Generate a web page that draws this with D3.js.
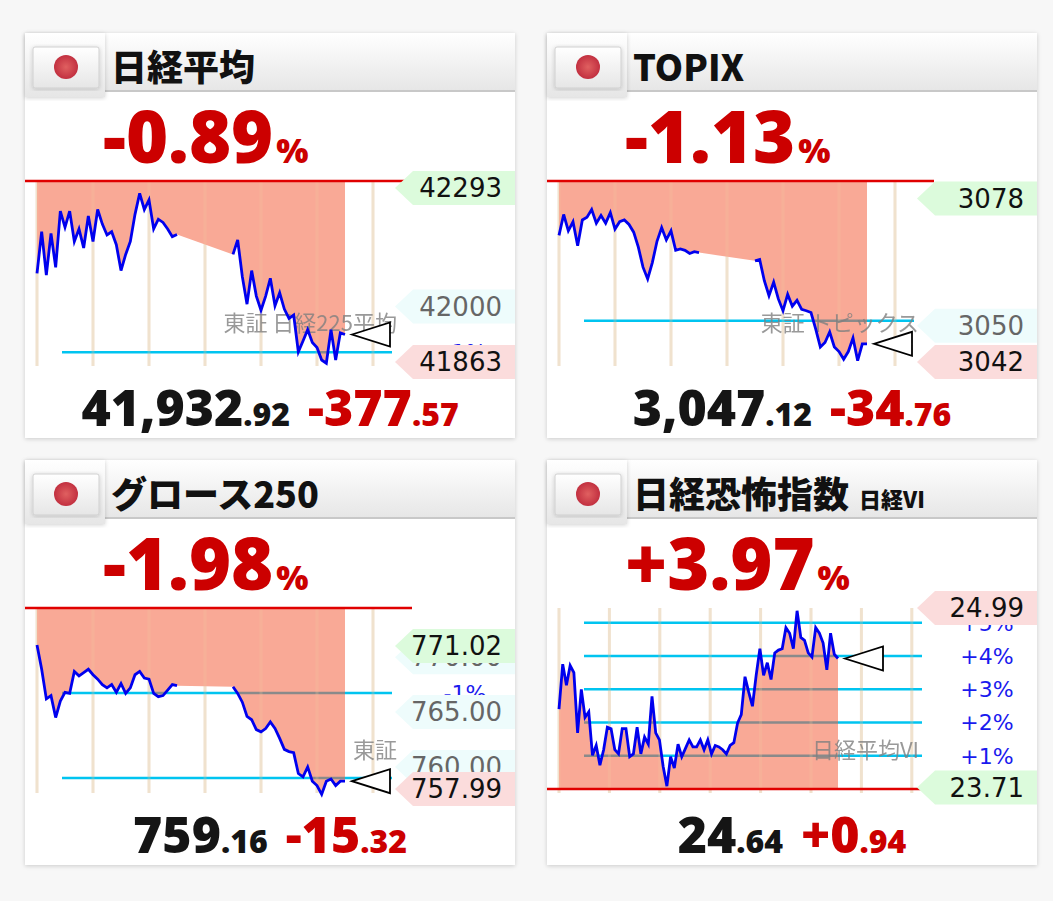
<!DOCTYPE html>
<html><head><meta charset="utf-8">
<script src="https://cdn.jsdelivr.net/npm/d3@7"></script>
<style>body{margin:0;background:#f7f7f7}</style>
</head><body><div id="chart"></div>
<script>
// 5-minute readings, morning 9:00-11:30, afternoon 12:30-14:30
var nkMorning = [42082,42185,42078,42181,42097,42236,42196,42236,42161,42192,42145,42224,42161,42240,42204,42177,42185,42153,42089,42129,42161,42228,42280,42240,42264,42192,42216,42208,42192,42173,42178];
var nkAfternoon = [42129,42165,42074,42006,42089,42026,41991,42026,42070,42002,42034,41994,41971,41979,41888,41915,41943,41911,41899,41868,41860,41943,41868,41935,41931];
var tpMorning = [3069.9,3074.5,3070.9,3072.9,3067.6,3073.3,3073.9,3075.6,3072.6,3074.3,3072.6,3074.9,3071.3,3072.9,3073.3,3072.3,3070.6,3067.3,3062.9,3060.3,3063.9,3068.6,3071.6,3068.9,3070.9,3066.6,3066.9,3066.6,3065.9,3066.3,3066.1];
var tpAfternoon = [3064.3,3064.6,3059.9,3056.6,3059.6,3055.9,3053.3,3056.9,3054.3,3055.6,3053.6,3053.3,3052.9,3049.3,3045.3,3046.3,3048.6,3045.3,3044.3,3042.6,3044.3,3047.3,3042.3,3046.0,3046.0];
var grMorning = [771.1,768.9,766.2,766.5,764.5,766.0,766.8,766.7,768.7,768.3,768.6,768.9,768.4,768.0,767.5,767.2,767.5,766.8,767.6,766.7,767.2,768.4,768.7,768.1,768.0,766.7,766.4,766.5,767.0,767.5,767.4];
var grAfternoon = [767.3,766.7,765.9,764.6,764.3,763.4,763.2,763.5,764.1,763.5,762.6,761.6,761.4,761.3,759.4,759.1,760.0,758.7,758.3,757.5,758.7,758.9,758.3,758.7,758.7];
var viSeries = [24.27,24.59,24.44,24.58,24.53,24.10,24.41,24.21,24.25,23.94,24.01,23.87,23.98,24.14,24.13,23.98,23.95,24.13,24.13,23.93,23.95,24.14,23.95,24.07,24.02,24.36,24.10,24.05,23.86,23.72,23.93,23.85,24.02,23.93,23.99,24.05,24.00,24.00,24.05,23.98,24.05,23.95,24.01,24.00,23.98,23.95,24.01,24.03,24.17,24.23,24.50,24.39,24.29,24.51,24.70,24.51,24.60,24.48,24.67,24.69,24.70,24.85,24.81,24.70,24.97,24.78,24.76,24.67,24.64,24.85,24.81,24.74,24.55,24.81,24.66,24.63];

var titles = ["日経平均", "TOPIX", "グロース250", "日経恐怖指数"];
var subTitles = ["", "", "", "日経VI"];
var changePct = ["-0.89", "-1.13", "-1.98", "+3.97"];
var lastInt = ["41,932", "3,047", "759", "24"];
var lastDec = [".92", ".12", ".16", ".64"];
var chgInt = ["-377", "-34", "-15", "+0"];
var chgDec = [".57", ".76", ".32", ".94"];
var prevClose = [42310.49, 3081.88, 774.48, 23.70];
var lows = [41863, 3042, 757.99, 23.70];
var highs = [42310.49, 3081.88, 774.48, 24.99];
var pctLevels = [[-1], [-1], [-1, -2], [1, 2, 3, 4, 5]];
var watermarks = ["東証 日経225平均", "東証 トピックス", "東証", "日経平均VI"];
// [value, text, kind] kind: g=green, p=pink, c=grey
var priceLabels = [
  [[42000, "42000", "c"], [42293, "42293", "g"], [41863, "41863", "p"]],
  [[3050, "3050", "c"], [3078, "3078", "g"], [3042, "3042", "p"]],
  [[770, "770.00", "c"], [765, "765.00", "c"], [760, "760.00", "c"], [771.02, "771.02", "g"], [757.99, "757.99", "p"]],
  [[24.99, "24.99", "p"], [23.71, "23.71", "g"]]
];

var W = 1053, H = 901;
var svg = d3.select("#chart").append("svg").attr("width", W).attr("height", H);
var defs = svg.append("defs");

var hg = defs.append("linearGradient").attr("id", "hdr").attr("x1", 0).attr("y1", 0).attr("x2", 0).attr("y2", 1);
hg.append("stop").attr("offset", "0").attr("stop-color", "#ffffff");
hg.append("stop").attr("offset", "1").attr("stop-color", "#e6e6e6");
var fg = defs.append("radialGradient").attr("id", "sun");
fg.append("stop").attr("offset", "0").attr("stop-color", "#e06060");
fg.append("stop").attr("offset", "1").attr("stop-color", "#c23040");
var sh = defs.append("filter").attr("id", "shadow").attr("x", "-5%").attr("y", "-5%").attr("width", "110%").attr("height", "110%");
sh.append("feDropShadow").attr("dx", 0).attr("dy", 1).attr("stdDeviation", 2).attr("flood-color", "#000").attr("flood-opacity", 0.18);

var origins = [[25, 33], [547, 33], [25, 460], [547, 460]];
var labelColors = {g: "#dcfbdc", p: "#fbdcdc", c: "#eefcfc"};
var numFont = "'Open Sans', Lato, sans-serif";
var jpFont = "'Noto Sans CJK JP', sans-serif";

function drawPanel(i, points, xScale) {
  var g = svg.append("g").attr("transform", "translate(" + origins[i][0] + "," + origins[i][1] + ")");
  g.append("rect").attr("width", 490).attr("height", 405).attr("fill", "#fff").attr("filter", "url(#shadow)");

  // header
  g.append("rect").attr("width", 490).attr("height", 58).attr("fill", "url(#hdr)");
  g.append("rect").attr("y", 57).attr("width", 490).attr("height", 2).attr("fill", "#c8c8c8");
  g.append("rect").attr("width", 80).attr("height", 64).attr("fill", "url(#hdr)").attr("filter", "url(#shadow)");
  g.append("rect").attr("x", 8).attr("y", 14).attr("width", 66).attr("height", 41).attr("rx", 2)
    .attr("fill", "url(#hdr)").attr("stroke", "#d0d0d0").attr("filter", "url(#shadow)");
  g.append("circle").attr("cx", 41).attr("cy", 34).attr("r", 12).attr("fill", "url(#sun)");
  var t = g.append("text").attr("x", 86).attr("y", 48).attr("font-family", jpFont).attr("font-weight", 900)
    .attr("font-size", 36).attr("fill", "#111").text(titles[i]);
  if (subTitles[i]) t.append("tspan").attr("font-size", 22).attr("dx", 10).text(subTitles[i]);

  var red = "#cc0000";
  var pct = g.append("text").attr("x", 78).attr("y", 130).attr("font-family", numFont).attr("font-weight", 800)
    .attr("font-size", 72).attr("fill", red).text(changePct[i]);
  pct.append("tspan").attr("font-size", 34).attr("dx", 3).text("%");

  var y = d3.scaleLinear().domain([lows[i], highs[i]]).range([329, 148]);
  var base = y(prevClose[i]);

  // vertical grid
  var gridX = i === 3 ? d3.range(8).map(function(k) { return 12 + k * 50.4; })
                      : d3.range(7).map(function(k) { return xScale(k * 60); });
  g.selectAll(".vg").data(gridX).enter().append("line")
    .attr("x1", function(d) { return d; }).attr("x2", function(d) { return d; })
    .attr("y1", 148).attr("y2", 333).attr("stroke", "#efebde").attr("stroke-width", 3);

  // percent lines
  var lvY = pctLevels[i].map(function(p) { return y(prevClose[i] * (1 + p / 100)); });
  var cx2 = i === 3 ? 375 : 367;
  g.selectAll(".pl").data(lvY).enter().append("line")
    .attr("x1", 37).attr("x2", cx2).attr("y1", function(d) { return d; }).attr("y2", function(d) { return d; })
    .attr("stroke", "#00c4f0").attr("stroke-width", 2.5);

  // fill
  var area = d3.area().x(function(d) { return d.x; }).y0(base).y1(function(d) { return y(d.v); });
  var pts = points.filter(function(d) { return d.v != null; });
  g.append("path").attr("d", area(pts)).attr("fill", "#f9a996");
  var cid = "clip" + i;
  defs.append("clipPath").attr("id", cid).append("path").attr("d", area(pts))
    .attr("transform", "translate(" + origins[i][0] + "," + origins[i][1] + ")");
  var cg = svg.append("g").attr("clip-path", "url(#" + cid + ")")
    .append("g").attr("transform", "translate(" + origins[i][0] + "," + origins[i][1] + ")");
  cg.selectAll("line").data(lvY).enter().append("line")
    .attr("x1", 37).attr("x2", cx2).attr("y1", function(d) { return d; }).attr("y2", function(d) { return d; })
    .attr("stroke", "#8a8a8a").attr("stroke-width", 2.5);
  var g2 = svg.append("g").attr("transform", "translate(" + origins[i][0] + "," + origins[i][1] + ")");
  g2.selectAll(".vg2").data(gridX).enter().append("line")
    .attr("x1", function(d) { return d; }).attr("x2", function(d) { return d; })
    .attr("y1", 148).attr("y2", 333).attr("stroke", "#f4c8a0").attr("stroke-width", 3).attr("opacity", 0.25);

  // prev close line
  g2.append("line").attr("x1", 0).attr("x2", 387).attr("y1", base).attr("y2", base)
    .attr("stroke", "#e00000").attr("stroke-width", 2.5);

  // watermark
  g2.append("text").attr("x", 372).attr("y", 298).attr("text-anchor", "end").attr("font-family", jpFont)
    .attr("font-size", 22).attr("fill", "#808080").attr("opacity", 0.8).text(watermarks[i]);

  // price line
  var line = d3.line().defined(function(d) { return d.v != null; })
    .x(function(d) { return d.x; }).y(function(d) { return y(d.v); });
  g2.append("path").attr("d", line(points)).attr("fill", "none").attr("stroke", "#0000ee").attr("stroke-width", 2.8);

  // marker
  var last = pts[pts.length - 1];
  var tx = last.x + 7, ty = y(last.v);
  g2.append("path").attr("d", "M" + tx + "," + ty + "L" + (tx + 38) + "," + (ty - 12) + "L" + (tx + 38) + "," + (ty + 12) + "Z")
    .attr("fill", "#fff").attr("stroke", "#000").attr("stroke-width", 1.8);

  // percent texts
  g2.selectAll(".pt").data(pctLevels[i]).enter().append("text")
    .attr("x", 440).attr("y", function(d) { return y(prevClose[i] * (1 + d / 100)) + 8; })
    .attr("text-anchor", "middle").attr("font-family", "'DejaVu Sans', sans-serif").attr("font-size", 22)
    .attr("fill", "#1a1aee").text(function(d) { return (d > 0 ? "+" : "") + d + "%"; });

  // price labels
  priceLabels[i].forEach(function(l) {
    var ly = y(l[0]);
    var lab = g2.append("g").attr("transform", "translate(370," + ly + ")");
    lab.append("path").attr("d", "M0,0L18,-17L120,-17L120,17L18,17Z").attr("fill", labelColors[l[2]]);
    lab.append("text").attr("x", 107).attr("y", 9).attr("text-anchor", "end")
      .attr("font-family", "'DejaVu Sans', sans-serif").attr("font-size", 26)
      .attr("fill", l[2] === "c" ? "#666" : "#111").text(l[1]);
  });

  // bottom numbers
  var b = g2.append("text").attr("x", 245).attr("y", 393).attr("text-anchor", "middle")
    .attr("font-family", numFont).attr("font-weight", 800).attr("font-size", 50);
  b.append("tspan").attr("fill", "#151515").text(lastInt[i]);
  b.append("tspan").attr("fill", "#151515").attr("font-size", 32).text(lastDec[i]);
  b.append("tspan").attr("fill", red).attr("dx", 18).text(chgInt[i]);
  b.append("tspan").attr("fill", red).attr("font-size", 32).text(chgDec[i]);
}

var tx = d3.scaleLinear().domain([0, 60]).range([12, 68]);
function session(morning, afternoon) {
  var pts = morning.map(function(v, k) { return {x: tx(k * 5), v: v}; });
  pts.push({x: tx(180), v: null});
  return pts.concat(afternoon.map(function(v, k) { return {x: tx(210 + k * 5), v: v}; }));
}
drawPanel(0, session(nkMorning, nkAfternoon), tx);
drawPanel(1, session(tpMorning, tpAfternoon), tx);
drawPanel(2, session(grMorning, grAfternoon), tx);
var vx = d3.scaleLinear().domain([0, viSeries.length - 1]).range([12, 291]);
drawPanel(3, viSeries.map(function(v, k) { return {x: vx(k), v: v}; }), vx);
</script></body></html>
